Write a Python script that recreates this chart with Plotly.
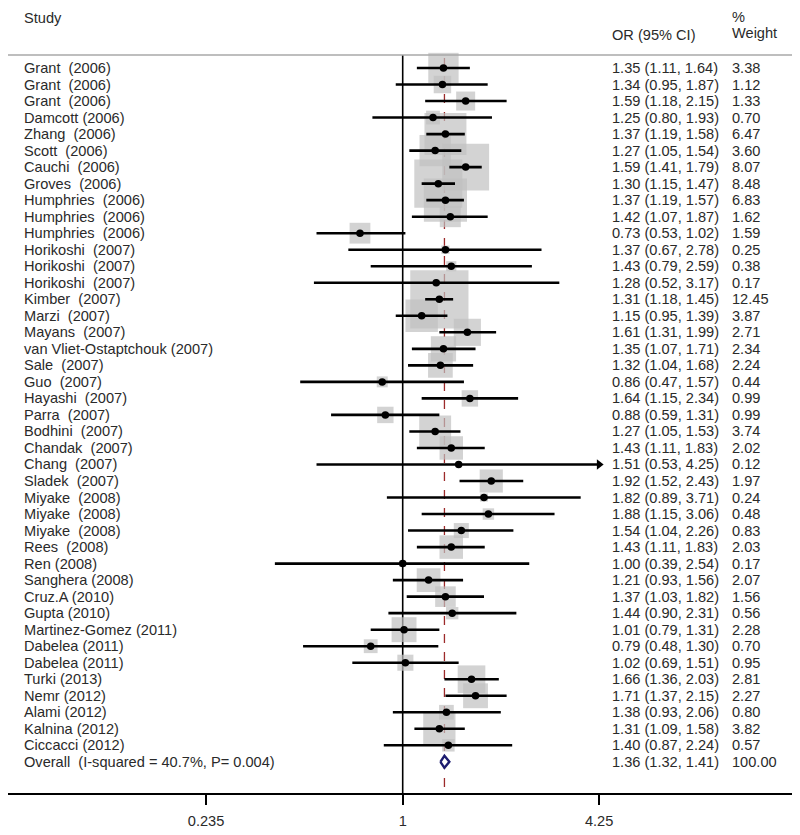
import math
import plotly.graph_objects as go

studies = [
    "Grant\u00a0 (2006)", "Grant\u00a0 (2006)", "Grant\u00a0 (2006)", "Damcott (2006)",
    "Zhang\u00a0 (2006)", "Scott\u00a0 (2006)", "Cauchi\u00a0 (2006)", "Groves\u00a0 (2006)",
    "Humphries\u00a0 (2006)", "Humphries\u00a0 (2006)", "Humphries\u00a0 (2006)",
    "Horikoshi\u00a0 (2007)", "Horikoshi\u00a0 (2007)", "Horikoshi\u00a0 (2007)",
    "Kimber\u00a0 (2007)", "Marzi\u00a0 (2007)", "Mayans\u00a0 (2007)",
    "van Vliet-Ostaptchouk (2007)", "Sale\u00a0 (2007)", "Guo\u00a0 (2007)",
    "Hayashi\u00a0 (2007)", "Parra\u00a0 (2007)", "Bodhini\u00a0 (2007)", "Chandak\u00a0 (2007)",
    "Chang\u00a0 (2007)", "Sladek\u00a0 (2007)", "Miyake\u00a0 (2008)", "Miyake\u00a0 (2008)",
    "Miyake\u00a0 (2008)", "Rees\u00a0 (2008)", "Ren (2008)", "Sanghera (2008)",
    "Cruz.A (2010)", "Gupta (2010)", "Martinez-Gomez (2011)", "Dabelea (2011)",
    "Dabelea (2011)", "Turki (2013)", "Nemr (2012)", "Alami (2012)",
    "Kalnina (2012)", "Ciccacci (2012)",
]
odds = [1.35, 1.34, 1.59, 1.25, 1.37, 1.27, 1.59, 1.30, 1.37, 1.42, 0.73,
        1.37, 1.43, 1.28, 1.31, 1.15, 1.61, 1.35, 1.32, 0.86, 1.64, 0.88,
        1.27, 1.43, 1.51, 1.92, 1.82, 1.88, 1.54, 1.43, 1.00, 1.21, 1.37,
        1.44, 1.01, 0.79, 1.02, 1.66, 1.71, 1.38, 1.31, 1.40]
lower = [1.11, 0.95, 1.18, 0.80, 1.19, 1.05, 1.41, 1.15, 1.19, 1.07, 0.53,
         0.67, 0.79, 0.52, 1.18, 0.95, 1.31, 1.07, 1.04, 0.47, 1.15, 0.59,
         1.05, 1.11, 0.53, 1.52, 0.89, 1.15, 1.04, 1.11, 0.39, 0.93, 1.03,
         0.90, 0.79, 0.48, 0.69, 1.36, 1.37, 0.93, 1.09, 0.87]
upper = [1.64, 1.87, 2.15, 1.93, 1.58, 1.54, 1.79, 1.47, 1.57, 1.87, 1.02,
         2.78, 2.59, 3.17, 1.45, 1.39, 1.99, 1.71, 1.68, 1.57, 2.34, 1.31,
         1.53, 1.83, 4.25, 2.43, 3.71, 3.06, 2.26, 1.83, 2.54, 1.56, 1.82,
         2.31, 1.31, 1.30, 1.51, 2.03, 2.15, 2.06, 1.58, 2.24]
weights = [3.38, 1.12, 1.33, 0.70, 6.47, 3.60, 8.07, 8.48, 6.83, 1.62, 1.59,
           0.25, 0.38, 0.17, 12.45, 3.87, 2.71, 2.34, 2.24, 0.44, 0.99, 0.99,
           3.74, 2.02, 0.12, 1.97, 0.24, 0.48, 0.83, 2.03, 0.17, 2.07, 1.56,
           0.56, 2.28, 0.70, 0.95, 2.81, 2.27, 0.80, 3.82, 0.57]
overall_label = "Overall\u00a0 (I-squared = 40.7%, P= 0.004)"
overall_or, overall_lo, overall_hi, overall_w = 1.36, 1.32, 1.41, 100.00
tick_vals = [0.235, 1, 4.25]
tick_text = ["0.235", "1", "4.25"]

n = len(studies)
rows = list(range(n))
overall_row = n

# page body has an 8px margin; work in target-page pixels and shift
OFF = 8
W, H = 800 - OFF, 835 - OFF
AX_L, AX_R, AX_Y = 8, 792, 793       # target page pixels of the axis line
ML = AX_L - OFF
MR = W - (AX_R - OFF)
MT = 0
MB = H - (AX_Y - OFF)
row0_px, row_step = 68.0, 16.52
px_per_dec = 312.6
one_px = 402.7

def px_to_row(p):
    return (p - row0_px) / row_step

def px_to_paper_x(p):
    return (p - AX_L) / (AX_R - AX_L)

xr = [(AX_L - one_px) / px_per_dec, (AX_R - one_px) / px_per_dec]
yr = [px_to_row(AX_Y), px_to_row(MT + OFF)]

fig = go.Figure()

# weight boxes
fig.add_trace(go.Scatter(
    x=odds, y=rows, mode="markers",
    marker=dict(symbol="square", size=[16.5 * math.sqrt(w) for w in weights],
                color="rgb(192,192,192)", line=dict(width=0)),
    hoverinfo="skip", showlegend=False))

# CI lines
cx, cy = [], []
for lo, hi, r in zip(lower, upper, rows):
    cx += [lo, hi, None]
    cy += [r, r, None]
fig.add_trace(go.Scatter(x=cx, y=cy, mode="lines",
                         line=dict(color="black", width=2.6),
                         hoverinfo="skip", showlegend=False))

# arrows for CIs reaching the upper label limit
ax_, ay_ = [], []
for hi, r in zip(upper, rows):
    if hi >= tick_vals[-1]:
        ax_.append(hi)
        ay_.append(r)
fig.add_trace(go.Scatter(x=ax_, y=ay_, mode="markers",
                         marker=dict(symbol="triangle-right", size=9, color="black"),
                         hoverinfo="skip", showlegend=False))

# point estimates
fig.add_trace(go.Scatter(x=odds, y=rows, mode="markers",
                         marker=dict(symbol="circle", size=7.5, color="black"),
                         hoverinfo="skip", showlegend=False))

# overall diamond
hh = 6 / row_step
fig.add_trace(go.Scatter(
    x=[overall_lo, overall_or, overall_hi, overall_or, overall_lo],
    y=[overall_row, overall_row - hh, overall_row, overall_row + hh, overall_row],
    mode="lines", fill="toself", fillcolor="white",
    line=dict(color="#1c1c70", width=2.4),
    hoverinfo="skip", showlegend=False))

shapes = [
    dict(type="line", xref="paper", yref="y", x0=0, x1=1,
         y0=px_to_row(55), y1=px_to_row(55),
         line=dict(color="#a8a8a8", width=1.5)),
    dict(type="line", xref="x", yref="y", x0=1, x1=1,
         y0=px_to_row(55), y1=yr[0],
         line=dict(color="black", width=1.6), layer="below"),
    dict(type="line", xref="x", yref="y", x0=overall_or, x1=overall_or,
         y0=px_to_row(58), y1=yr[0],
         line=dict(color="#9c2a2a", width=1.3, dash="dash"), layer="below"),
]

FONT = "Arial, Liberation Sans, sans-serif"
TXT = "#2a2a2a"
FS = 14.6
annotations = []
def add_text(px_x, row, text):
    annotations.append(dict(xref="paper", yref="y", x=px_to_paper_x(px_x), y=row,
                            text=text, showarrow=False, xanchor="left", yanchor="middle",
                            font=dict(family=FONT, size=FS, color=TXT)))

add_text(22, px_to_row(18), "Study")
add_text(610, px_to_row(35), "OR (95% CI)")
add_text(730, px_to_row(17), "%")
add_text(730, px_to_row(33), "Weight")

for name, o, lo, hi, w, r in zip(studies, odds, lower, upper, weights, rows):
    add_text(22, r, name)
    add_text(610, r, f"{o:.2f} ({lo:.2f}, {hi:.2f})")
    add_text(730, r, f"{w:.2f}")
add_text(22, overall_row, overall_label)
add_text(610, overall_row, f"{overall_or:.2f} ({overall_lo:.2f}, {overall_hi:.2f})")
add_text(730, overall_row, f"{overall_w:.2f}")

fig.update_layout(
    width=W, height=H,
    margin=dict(l=ML, r=MR, t=MT, b=MB, pad=0),
    paper_bgcolor="white", plot_bgcolor="white",
    shapes=shapes, annotations=annotations,
    xaxis=dict(type="log", range=xr, showgrid=False, zeroline=False,
               showline=True, linecolor="black", linewidth=1.6,
               ticks="outside", ticklen=10, tickwidth=1.6, tickcolor="black",
               tickvals=tick_vals, ticktext=tick_text,
               tickfont=dict(family=FONT, size=FS, color=TXT),
               ticklabelstandoff=4, fixedrange=True),
    yaxis=dict(range=yr, visible=False, showgrid=False, zeroline=False,
               fixedrange=True),
)

fig.write_html("out.html")
